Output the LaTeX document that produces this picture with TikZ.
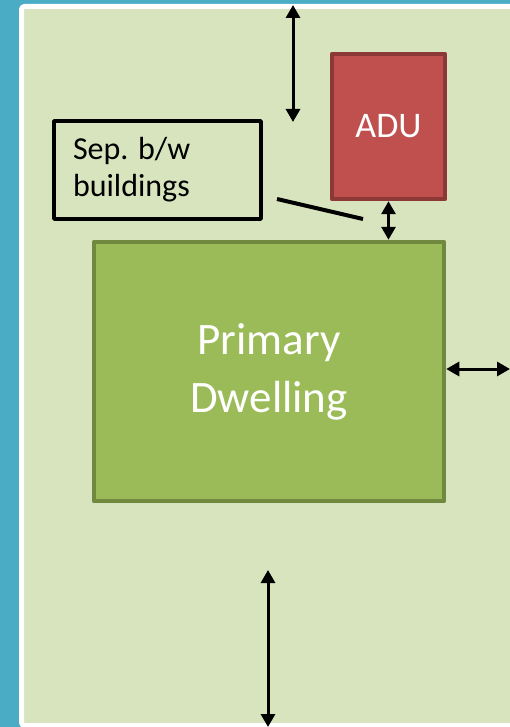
\documentclass[tikz,border=0pt]{standalone}
\usepackage{fontspec}
\setmainfont{Carlito}
\usetikzlibrary{arrows.meta}
\definecolor{sky}{HTML}{4BACC6}
\definecolor{lot}{HTML}{D7E4BD}
\definecolor{house}{HTML}{9BBB59}
\definecolor{houseline}{HTML}{71893F}
\definecolor{adu}{HTML}{C0504D}
\definecolor{aduline}{HTML}{8C3836}
\tikzset{
  building/.style={draw,rectangle,line width=4.5pt,text=white,align=center,inner sep=0pt},
  gap/.style={line width=3pt,{Triangle[length=13pt,width=14pt]}-{Triangle[length=13pt,width=14pt]}}
}
\begin{document}
\begin{tikzpicture}[x=1pt,y=-1pt,line cap=butt,line join=round]
\useasboundingbox (0,0) rectangle (510,727);
\fill[sky] (0,0) rectangle (510,727);
\draw[white,line width=5pt,fill=lot,rounded corners=3pt] (21.5,6.5) rectangle (560,725.5);
\clip (0,0) rectangle (510,727);
	\node[building,fill=house,draw=houseline,minimum width=350pt,minimum height=259pt,font=\fontsize{45}{58}\selectfont] (prim) at (269,371.5) {Primary\\Dwelling};
	\node[building,fill=adu,draw=aduline,minimum width=113pt,minimum height=145pt,font=\fontsize{36}{40}\selectfont] (adu) at (388.5,126.5) {ADU};
	\node[draw,rectangle,line width=3.5pt,minimum width=207pt,minimum height=98pt,inner xsep=19pt,text width=169pt,align=flush left,font=\fontsize{32}{37}\selectfont] (sep) at (157.5,170) {Sep. b/w\\buildings};
\coordinate (top1) at (293,5);
\coordinate (top2) at (293,122);
\coordinate (rgt) at (510,369);
\coordinate (bot1) at (268,570);
\coordinate (bot2) at (268,727);
\coordinate (lead1) at (277,199);
\coordinate (lead2) at (363,219);
\draw[gap] (top1) -- (top2);
\draw[gap] (adu.south) -- (adu.south |- prim.north);
\draw[gap] (prim.east |- rgt) -- (rgt);
\draw[gap] (bot1) -- (bot2);
\draw[line width=4pt] (lead1) -- (lead2);
\end{tikzpicture}
\end{document}
